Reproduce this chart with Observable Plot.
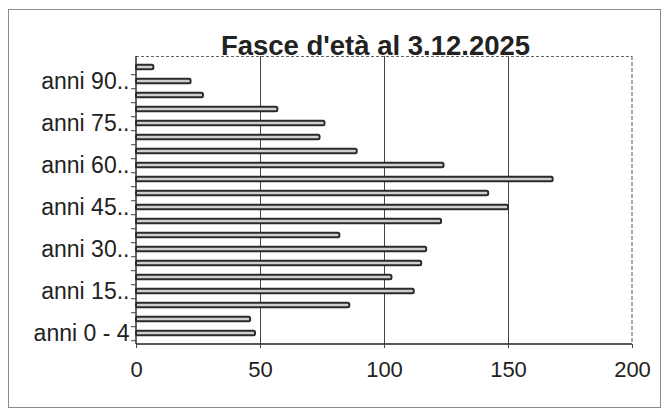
<!DOCTYPE html>
<html><head><meta charset="utf-8">
<script src="https://cdn.jsdelivr.net/npm/d3@7"></script>
<script src="https://cdn.jsdelivr.net/npm/@observablehq/plot@0.6"></script>
<style>
body{margin:0;background:#fff;}
#wrap{position:relative;width:667px;height:412px;overflow:hidden;}
#frame{position:absolute;left:8px;top:9px;width:653px;height:399px;border:1.5px solid #8a8a8a;box-sizing:border-box;pointer-events:none;}
</style></head><body>
<div id="wrap"><div id="frame"></div></div>
<script>
const categories = ["anni 0 - 4","anni 5 - 9","anni 10 - 14","anni 15 - 19","anni 20 - 24","anni 25 - 29","anni 30 - 34","anni 35 - 39","anni 40 - 44","anni 45 - 49","anni 50 - 54","anni 55 - 59","anni 60 - 64","anni 65 - 69","anni 70 - 74","anni 75 - 79","anni 80 - 84","anni 85 - 89","anni 90 - 94","anni 95 e oltre"];
const values = [48,46,86,112,103,115,117,82,123,150,142,168,124,89,74,76,57,27,22,7];
const tickCategories = ["anni 0 - 4","anni 15 - 19","anni 30 - 34","anni 45 - 49","anni 60 - 64","anni 75 - 79","anni 90 - 94"];
const tickLabels = ["anni 0 - 4","anni 15..","anni 30..","anni 45..","anni 60..","anni 75..","anni 90.."];
const xTicks = [0,50,100,150,200];
const gridValues = [50,100,150];
const title = "Fasce d'età al 3.12.2025";

const data = categories.map((c, i) => ({cat: c, value: values[i]}));

const W = 667, H = 412, mL = 136, mR = 35, mT = 56, mB = 68;
const step = (H - mT - mB) / categories.length;

function plotBorder(index, scales, vals, dims) {
  const g = d3.create("svg:g");
  const l = dims.marginLeft, t = dims.marginTop, r = dims.width - dims.marginRight, b = dims.height - dims.marginBottom;
  g.append("line").attr("x1", l).attr("x2", r).attr("y1", t + 0.5).attr("y2", t + 0.5)
    .attr("stroke", "#666").attr("stroke-dasharray", "3,2");
  g.append("line").attr("x1", r).attr("x2", r).attr("y1", t).attr("y2", b)
    .attr("stroke", "#555").attr("stroke-dasharray", "4,2");
  g.append("line").attr("x1", l).attr("x2", r).attr("y1", b).attr("y2", b)
    .attr("stroke", "#222").attr("stroke-width", 1.4);
  g.append("line").attr("x1", l).attr("x2", l).attr("y1", t).attr("y2", b)
    .attr("stroke", "#222").attr("stroke-width", 1.4);
  return g.node();
}

const chart = Plot.plot({
  width: W, height: H,
  marginLeft: mL, marginRight: mR, marginTop: mT, marginBottom: mB,
  style: {fontFamily: "'Liberation Sans', Arial, sans-serif", background: "transparent", color: "#222"},
  x: {domain: [0, 200]},
  y: {type: "band", domain: categories.slice().reverse(), padding: 0},
  marks: [
    Plot.ruleX(gridValues, {stroke: "#444", strokeWidth: 1}),
    plotBorder,
    Plot.barX(data, {x: "value", y: "cat", fill: "#cfcfcf", stroke: "#2a2a2a", strokeWidth: 2,
      insetTop: 4.7, insetBottom: 4.7, rx: 1.5}),
    Plot.axisY({ticks: tickCategories, tickFormat: d => tickLabels[tickCategories.indexOf(d)],
      tickSize: 0, tickPadding: 7, fontSize: 23, label: null}),
    Plot.axisY({ticks: categories, tickFormat: () => "", tickSize: 5, dy: step / 2, stroke: "#444", label: null}),
    Plot.axisX({ticks: xTicks, tickSize: 4, tickPadding: 13, fontSize: 22, label: null, stroke: "#444"}),
    Plot.text([title], {frameAnchor: "top", lineAnchor: "bottom", dy: -2, dx: -9,
      fontSize: 27.5, fontWeight: "bold", fill: "#222"})
  ]
});
document.getElementById("wrap").prepend(chart);
</script>
</body></html>
